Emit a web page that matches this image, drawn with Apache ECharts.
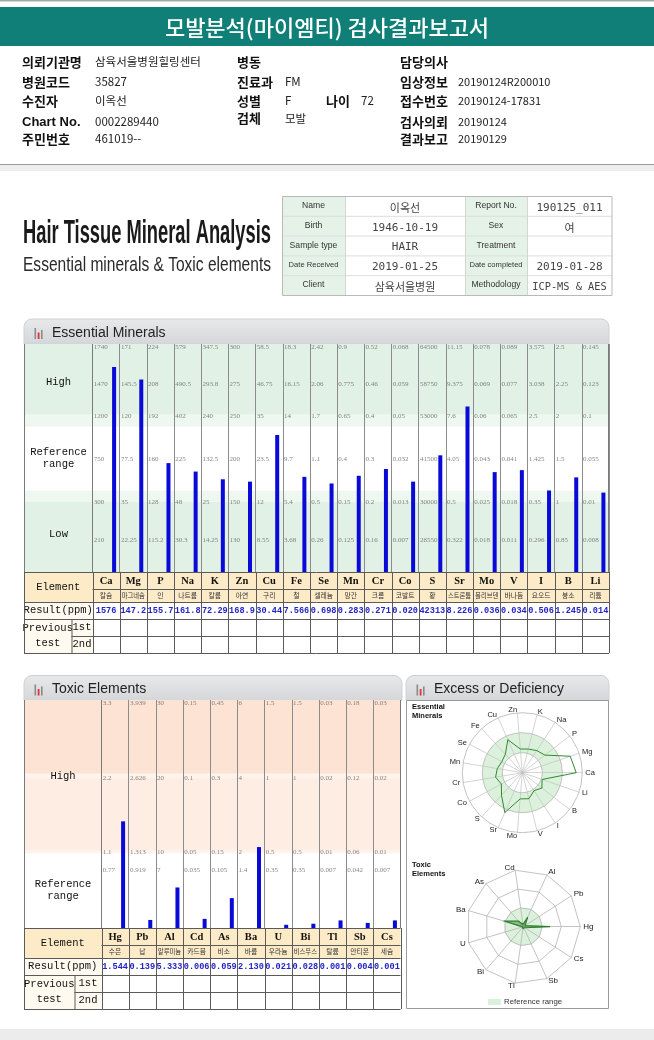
<!DOCTYPE html>
<html><head><meta charset="utf-8">
<script src="https://cdn.jsdelivr.net/npm/echarts@6/dist/echarts.min.js"></script>
<style>html,body{margin:0;padding:0;background:#fff}#c{width:654px;height:1040px}</style>
</head><body><div id="c"></div>
<script>
// ---------------- DATA ----------------
const essElements = ['Ca','Mg','P','Na','K','Zn','Cu','Fe','Se','Mn','Cr','Co','S','Sr','Mo','V','I','B','Li'];
const essKorean = ['칼슘','마그네슘','인','나트륨','칼륨','아연','구리','철','셀레늄','망간','크롬','코발트','황','스트론튬','몰리브덴','바나듐','요오드','붕소','리튬'];
const essResults = [1576,147.2,155.7,161.8,72.29,168.9,30.44,7.566,0.698,0.283,0.271,0.020,42313,8.226,0.036,0.034,0.506,1.245,0.014];
const essResultText = ['1576','147.2','155.7','161.8','72.29','168.9','30.44','7.566','0.698','0.283','0.271','0.020','42313','8.226','0.036','0.034','0.506','1.245','0.014'];
const essTop     = ['1740','171','224','579','347.5','300','58.5','18.3','2.42','0.9','0.52','0.068','64500','11.15','0.078','0.089','3.575','2.5','0.145'];
const essHighMid = ['1470','145.5','208','490.5','293.8','275','46.75','16.15','2.06','0.775','0.46','0.059','58750','9.375','0.069','0.077','3.038','2.25','0.123'];
const essHigh    = ['1200','120','192','402','240','250','35','14','1.7','0.65','0.4','0.05','53000','7.6','0.06','0.065','2.5','2','0.1'];
const essRefMid  = ['750','77.5','160','225','132.5','200','23.5','9.7','1.1','0.4','0.3','0.032','41500','4.05','0.043','0.041','1.425','1.5','0.055'];
const essLow     = ['300','35','128','48','25','150','12','5.4','0.5','0.15','0.2','0.013','30000','0.5','0.025','0.018','0.35','1','0.01'];
const essLowMid  = ['210','22.25','115.2','30.3','14.25','130','8.55','3.68','0.26','0.125','0.16','0.007','26550','0.322','0.018','0.011','0.296','0.85','0.008'];

const toxElements = ['Hg','Pb','Al','Cd','As','Ba','U','Bi','Tl','Sb','Cs'];
const toxKorean = ['수은','납','알루미늄','카드뮴','비소','바륨','우라늄','비스무스','탈륨','안티몬','세슘'];
const toxResults = [1.544,0.139,5.333,0.006,0.059,2.130,0.021,0.028,0.001,0.004,0.001];
const toxResultText = ['1.544','0.139','5.333','0.006','0.059','2.130','0.021','0.028','0.001','0.004','0.001'];
const toxL3 = ['3.3','3.939','30','0.15','0.45','6','1.5','1.5','0.03','0.18','0.03'];
const toxL2 = ['2.2','2.626','20','0.1','0.3','4','1','1','0.02','0.12','0.02'];
const toxL1 = ['1.1','1.313','10','0.05','0.15','2','0.5','0.5','0.01','0.06','0.01'];
const toxL07 = ['0.77','0.919','7','0.035','0.105','1.4','0.35','0.35','0.007','0.042','0.007'];

const infoCol1 = [['의뢰기관명','삼육서울병원힐링센터'],['병원코드','35827'],['수진자','이옥선'],['Chart No.','0002289440'],['주민번호','461019--']];
const infoCol2 = [['병동',''],['진료과','FM'],['성별','F'],['검체','모발']];
const infoCol3 = [['담당의사',''],['임상정보','20190124R200010'],['접수번호','20190124-17831'],['검사의뢰','20190124'],['결과보고','20190129']];
const sampleRows = [['Name','이옥선','Report No.','190125_011'],['Birth','1946-10-19','Sex','여'],['Sample type','HAIR','Treatment',''],['Date Received','2019-01-25','Date completed','2019-01-28'],['Client','삼육서울병원','Methodology','ICP-MS & AES']];

// ---------------- derived scores ----------------
const num = s => parseFloat(s);
const essScores = essResults.map((v,i)=>{
  const top=num(essTop[i]), hi=num(essHigh[i]), lo=num(essLow[i]), lmin=2*num(essLowMid[i])-lo;
  let s;
  if (v>=hi) s=2+(v-hi)/(top-hi);
  else if (v>=lo) s=1+(v-lo)/(hi-lo);
  else s=Math.max(0,(v-lmin)/(lo-lmin));
  return +Math.min(3,s).toFixed(4);
});
const toxScores = toxResults.map((v,i)=> +Math.min(3, v/num(toxL1[i])).toFixed(4));

// ---------------- graphic helpers ----------------
const G = [];
const KR = '"Noto Sans CJK KR"';
function rect(x,y,w,h,fill,stroke,lw,r,z){ G.push({type:'rect',silent:true,z:z||0,shape:{x:x,y:y,width:w,height:h,r:r||0},style:{fill:fill||'none',stroke:stroke||null,lineWidth:lw||1}}); }
function line(x1,y1,x2,y2,stroke,lw,z){ G.push({type:'line',silent:true,z:z||0,shape:{x1:x1,y1:y1,x2:x2,y2:y2},style:{stroke:stroke,lineWidth:lw||1}}); }
function text(x,y,t,font,fill,align,extra){ const el={type:'text',silent:true,z:5,x:x,y:y,style:{text:t,font:font,fill:fill||'#000',textAlign:align||'left',align:align||'left',textVerticalAlign:'middle',verticalAlign:'middle'}}; if(extra) Object.assign(el,extra); G.push(el); }

const ctx = document.createElement('canvas').getContext('2d');
function fitScale(t,font,w){ ctx.font=font; return w/ctx.measureText(t).width; }

// top header
rect(0,0,654,1.5,'#a8a8a8');
rect(0,7,654,39,'#0f7f78');
text(327,27.5,'모발분석(마이엠티) 검사결과보고서','500 22px '+KR,'#ffffff','center');
const rowsY=[62,82,101,122,139];
infoCol1.forEach((r,i)=>{ text(22,rowsY[i],r[0],'bold 13px '+(r[0]==='Chart No.'?'"Liberation Sans"':KR),'#111'); text(95,rowsY[i],r[1],'11.5px '+KR,'#222'); });
const rows2=[62,82,101,118.5];
infoCol2.forEach((r,i)=>{ text(237,rows2[i],r[0],'bold 13px '+KR,'#111'); text(285,rows2[i],r[1],'11.5px '+KR,'#222'); });
text(326,101,'나이','bold 13px '+KR,'#111'); text(361,101,'72','11.5px '+KR,'#222');
const rows3=[62,82,101,122,139];
infoCol3.forEach((r,i)=>{ text(400,rows3[i],r[0],'bold 13px '+KR,'#111'); text(458,rows3[i],r[1],'11px '+KR,'#222'); });
line(0,164.5,654,164.5,'#9a9a9a',1);
rect(0,165,654,6,'#eeeeee');
rect(0,1029,654,11,'#ececec');

// big title
const tf1='bold 34px "Liberation Sans"', tt1='Hair Tissue Mineral Analysis';
text(23,234,tt1,tf1,'#1a1a1a','left',{scaleX:fitScale(tt1,tf1,248)});
const tf2='20.5px "Liberation Sans"', tt2='Essential minerals & Toxic elements';
text(23,265,tt2,tf2,'#2a2a2a','left',{scaleX:fitScale(tt2,tf2,248)});

// sample info table
const stTop=196, stH=19.8;
rect(282,stTop,63,stH*5,'#e5f2e7'); rect(465,stTop,62,stH*5,'#e5f2e7');
for(let r=1;r<5;r++) line(282,stTop+r*stH+0.5,612,stTop+r*stH+0.5,'#dddddd',1);
[345,465,527].forEach(x=>line(x+0.5,stTop,x+0.5,stTop+stH*5,'#d5d5d5',1));
rect(282.5,stTop+0.5,329.5,stH*5,'none','#b9b9b9',1);
sampleRows.forEach((r,i)=>{
  const cy=stTop+i*stH+stH/2;
  const lf = n => (n.length>12?'7.6px':'8.6px')+' "Liberation Sans"';
  text(313.5,cy,r[0],lf(r[0]),'#333','center');
  text(405,cy+2,r[1],'11px '+(/[가-힣]/.test(r[1])?KR:'"DejaVu Sans Mono"'),'#444','center');
  text(496,cy,r[2],lf(r[2]),'#333','center');
  text(569.5,cy+2,r[3],(r[3].length>10?'10.3px':'11px')+' '+(/[가-힣]/.test(r[3])?KR:'"DejaVu Sans Mono"'),'#444','center');
});

// panel headers
function panelHeader(x,y,w,title){
  G.push({type:'rect',silent:true,z:0,shape:{x:x,y:y,width:w,height:25,r:[8,8,0,0]},style:{fill:new echarts.graphic.LinearGradient(0,0,0,1,[{offset:0,color:'#e8e9eb'},{offset:1,color:'#d5d6d9'}]),stroke:'#cfd0d3'}});
  rect(x+10.5,y+9,1.6,11,'#8a8a8a'); rect(x+13.7,y+13.5,1.8,6.5,'#e0332f'); rect(x+17,y+11,1.6,9,'#8a8a8a');
  text(x+28,y+14,title,'14px "Liberation Sans"','#222');
}
panelHeader(24,319,585,'Essential Minerals');
panelHeader(24,675.5,378,'Toxic Elements');
panelHeader(406,675.5,203,'Excess or Deficiency');

// tables
function table(x0,labelR,splitX,colX0,colW,top,syms,kor,res,right){
  const h1=17,h2=13,h3=17,h4=17,h5=17;
  const yK=top+h1, yR=top+h1+h2, yP=yR+h3, yP2=yP+h4, yB=yP2+h5;
  rect(x0,top,right-x0,h1+h2,'#fdebc8');
  rect(x0,yR,labelR-x0,yB-yR,'#fffaf0');
  const lc='#5a5a5a';
  [top,yR,yP,yB].forEach(y=>line(x0,y+0.5,right,y+0.5,lc,1,6));
  line(labelR,yK+0.5,right,yK+0.5,lc,1,6);
  line(splitX,yP2+0.5,right,yP2+0.5,lc,1,6);
  line(x0+0.5,top,x0+0.5,yB+0.5,lc,1,6);
  line(splitX+0.5,yP,splitX+0.5,yB,lc,1,6);
  for(let i=0;i<=syms.length;i++){ const x=Math.round(colX0+i*colW)+0.5; line(x,top,x,yB,lc,1,6); }
  const mono='"Liberation Mono"';
  text((x0+labelR)/2,top+(h1+h2)/2,'Element','10.5px '+mono,'#111','center');
  text((x0+labelR)/2,yR+h3/2,'Result(ppm)','10.5px '+mono,'#111','center');
  text((x0+splitX)/2,yP+(h4+h5)/2,'Previous\ntest','10.5px '+mono,'#111','center',{style:{text:'Previous\ntest',font:'10.5px '+mono,fill:'#111',textAlign:'center',align:'center',verticalAlign:'middle',textVerticalAlign:'middle',lineHeight:15}});
  text((splitX+labelR)/2,yP+h4/2,'1st','10.5px '+mono,'#111','center');
  text((splitX+labelR)/2,yP2+h5/2,'2nd','10.5px '+mono,'#111','center');
  syms.forEach((s,i)=>{
    const cx=colX0+(i+0.5)*colW;
    text(cx,top+h1/2+0.5,s,'bold 10.5px "Liberation Serif"','#111','center');
    text(cx,yK+h2/2,kor[i],(kor[i].length>=4?'6.3px ':'6.8px ')+KR,'#333','center');
    text(cx,yR+h3/2+0.5,res[i],'bold 8.6px '+mono,'#2424c8','center');
  });
}
const eColX0=92.5, eColW=(609-92.5)/19;
const tColX0=101.5, tColW=(400.5-101.5)/11;
table(24,eColX0,71.5,eColX0,eColW,572,essElements,essKorean,essResultText,609);
table(24,tColX0,74.5,tColX0,tColW,928,toxElements,toxKorean,toxResultText,400.5);

// chart borders
line(24.5,344,24.5,572,'#7a7a7a',1,6); line(608.5,344,608.5,572,'#7a7a7a',1,6);
line(24.5,700,24.5,928,'#7a7a7a',1,6); line(400.5,700,400.5,928,'#7a7a7a',1,6);
line(92.5,344,92.5,572,'#7a7a7a',1,6); line(101.5,700,101.5,928,'#7a7a7a',1,6);
// excess panel body
rect(406.5,700.5,202,308,'none','#9a9a9a',1,0,6);
text(412,707,'Essential','bold 7.5px "Liberation Sans"','#111','left'); text(412,715.5,'Minerals','bold 7.5px "Liberation Sans"','#111','left');
text(412,865,'Toxic','bold 7.5px "Liberation Sans"','#111','left'); text(412,873.5,'Elements','bold 7.5px "Liberation Sans"','#111','left');
rect(488,999,13,6,'#dcf1dc');
text(504,1002,'Reference range','7.8px "Liberation Sans"','#333','left');

// ---------------- series helpers ----------------
const GREEN='#e2f1e5', STRIP='#eef7f0';
const essBands=[
  [{yAxis:2.07,itemStyle:{color:GREEN}},{yAxis:3}],
  [{yAxis:1.91,itemStyle:{color:STRIP}},{yAxis:2.07}],
  [{yAxis:1.07,itemStyle:{color:'#ffffff'}},{yAxis:1.91}],
  [{yAxis:0.92,itemStyle:{color:STRIP}},{yAxis:1.07}],
  [{yAxis:0,itemStyle:{color:GREEN}},{yAxis:0.92}]
];
const SAL1='#fde3d3', SAL2='#feede3', SALS='#fff3ec';
const toxBands=[
  [{yAxis:2.03,itemStyle:{color:SAL1}},{yAxis:3}],
  [{yAxis:1.97,itemStyle:{color:SALS}},{yAxis:2.03}],
  [{yAxis:1.02,itemStyle:{color:SAL2}},{yAxis:1.97}],
  [{yAxis:0.98,itemStyle:{color:SALS}},{yAxis:1.02}],
  [{yAxis:0,itemStyle:{color:'#ffffff'}},{yAxis:0.98}]
];
const lblFont={fontFamily:'Liberation Mono',fontSize:10.5,color:'#111',lineHeight:12};

const essLevelVals=[essTop,essHighMid,essHigh,essRefMid,essLow,essLowMid];
const essLevelPos=[3,2.5,2,1.5,1,0.5];
const essLevelDy=[3.5,2,-4,1,6.5,6];
const essLevelData=[];
essLevelVals.forEach((arr,k)=>arr.forEach((t,i)=>essLevelData.push({name:t,value:[i,essLevelPos[k]],label:{offset:[-eColW/2+1.2,essLevelDy[k]]}})));
const toxLevelVals=[toxL3,toxL2,toxL1,toxL07];
const toxLevelPos=[3,2,1,0.7];
const toxLevelDy=[3,2.5,0,-5];
const toxLevelData=[];
toxLevelVals.forEach((arr,k)=>arr.forEach((t,i)=>toxLevelData.push({name:t,value:[i,toxLevelPos[k]],label:{offset:[-tColW/2+1.2,toxLevelDy[k]]}})));

const levelLabel={show:true,position:'inside',align:'left',verticalAlign:'middle',formatter:'{b}',fontFamily:'Liberation Serif',fontSize:7,color:'#666'};
const hiddenY=i=>({gridIndex:i,type:'value',min:0,max:3,show:false});
const hiddenX=i=>({gridIndex:i,type:'category',data:[''],show:false});
const catX=(i,data)=>({gridIndex:i,type:'category',data:data,z:5,axisLine:{show:false},axisTick:{show:false},axisLabel:{show:false},splitLine:{show:true,interval:0,lineStyle:{color:'#8c8c8c',width:1}}});

const option={
  animation:false,
  textStyle:{fontFamily:'Liberation Sans'},
  graphic:{elements:G},
  grid:[
    {left:24.5,top:344,width:68,height:228,outerBoundsMode:'none'},
    {left:eColX0,top:344,width:609-eColX0,height:228,outerBoundsMode:'none'},
    {left:24.5,top:700,width:77,height:228,outerBoundsMode:'none'},
    {left:tColX0,top:700,width:400.5-tColX0,height:228,outerBoundsMode:'none'}
  ],
  xAxis:[hiddenX(0),catX(1,essElements),hiddenX(2),catX(3,toxElements)],
  yAxis:[hiddenY(0),hiddenY(1),hiddenY(2),hiddenY(3)],
  radar:[
    {center:[522.3,772.7],radius:60,startAngle:0,splitNumber:3,shape:'circle',
     indicator:essElements.map(n=>({name:n,min:0,max:3})),
     axisName:{color:'#222',fontSize:7.5,fontFamily:'Liberation Sans'},nameGap:3,
     axisLine:{lineStyle:{color:'#c2c2c2',width:0.7}},splitLine:{lineStyle:{color:'#b4b4b4',width:0.8}},
     splitArea:{show:true,areaStyle:{color:['rgba(255,255,255,0)','#dcf1dc','rgba(255,255,255,0)']}}},
    {center:[523.3,926.7],radius:57,startAngle:0,splitNumber:3,shape:'circle',
     indicator:toxElements.map(n=>({name:'',min:0,max:3})),axisName:{show:false},
     axisLine:{show:false},splitLine:{show:false},
     splitArea:{show:true,areaStyle:{color:['#dcf1dc','rgba(255,255,255,0)','rgba(255,255,255,0)']}}},
    {center:[523.3,926.7],radius:57,startAngle:0,splitNumber:3,shape:'polygon',
     indicator:toxElements.map(n=>({name:n,min:0,max:3})),
     axisName:{color:'#222',fontSize:8,fontFamily:'Liberation Sans'},nameGap:3,
     axisLine:{lineStyle:{color:'#b4b4b4',width:0.8}},splitLine:{lineStyle:{color:'#b4b4b4',width:0.8}},
     splitArea:{show:false}}
  ],
  series:[
    {type:'line',xAxisIndex:0,yAxisIndex:0,data:[],z:1,silent:true,markArea:{silent:true,data:essBands.concat([
      [{yAxis:2,name:'High',itemStyle:{color:'rgba(0,0,0,0)'}},{yAxis:3}],
      [{yAxis:1,name:'Reference\nrange',itemStyle:{color:'rgba(0,0,0,0)'}},{yAxis:2}],
      [{yAxis:0,name:'Low',itemStyle:{color:'rgba(0,0,0,0)'}},{yAxis:1}]
    ]),label:Object.assign({show:true,position:'inside'},lblFont)}},
    {type:'line',xAxisIndex:1,yAxisIndex:1,data:[],z:1,silent:true,markArea:{silent:true,data:essBands,label:{show:false}}},
    {type:'bar',xAxisIndex:1,yAxisIndex:1,data:essElements.map(()=>'-'),barWidth:4,barGap:'300%',z:3},
    {type:'bar',name:'Result',xAxisIndex:1,yAxisIndex:1,data:essScores,barWidth:4,barGap:'300%',z:3,itemStyle:{color:'#0a0ad8'}},
    {type:'scatter',xAxisIndex:1,yAxisIndex:1,data:essLevelData,symbolSize:1,itemStyle:{color:'rgba(0,0,0,0)'},label:levelLabel,z:4,silent:true},
    {type:'line',xAxisIndex:2,yAxisIndex:2,data:[],z:1,silent:true,markArea:{silent:true,data:toxBands.concat([
      [{yAxis:1,name:'High',itemStyle:{color:'rgba(0,0,0,0)'}},{yAxis:3}],
      [{yAxis:0,name:'Reference\nrange',itemStyle:{color:'rgba(0,0,0,0)'}},{yAxis:1}]
    ]),label:Object.assign({show:true,position:'inside'},lblFont)}},
    {type:'line',xAxisIndex:3,yAxisIndex:3,data:[],z:1,silent:true,markArea:{silent:true,data:toxBands,label:{show:false}}},
    {type:'bar',xAxisIndex:3,yAxisIndex:3,data:toxElements.map(()=>'-'),barWidth:4,barGap:'300%',z:3},
    {type:'bar',name:'Toxic',xAxisIndex:3,yAxisIndex:3,data:toxScores,barWidth:4,barGap:'300%',z:3,itemStyle:{color:'#0a0ad8'}},
    {type:'scatter',xAxisIndex:3,yAxisIndex:3,data:toxLevelData,symbolSize:1,itemStyle:{color:'rgba(0,0,0,0)'},label:levelLabel,z:4,silent:true},
    {type:'radar',radarIndex:0,symbol:'none',silent:true,data:[{value:essScores}],lineStyle:{color:'#2f8a2f',width:1}},
    {type:'radar',radarIndex:2,symbol:'none',silent:true,data:[{value:toxScores}],lineStyle:{color:'#2a7a2a',width:1.2},areaStyle:{color:'#3f903f',opacity:0.55}}
  ]
};
const chart=echarts.init(document.getElementById('c'),null,{renderer:'canvas'});
chart.setOption(option);
</script></body></html>
